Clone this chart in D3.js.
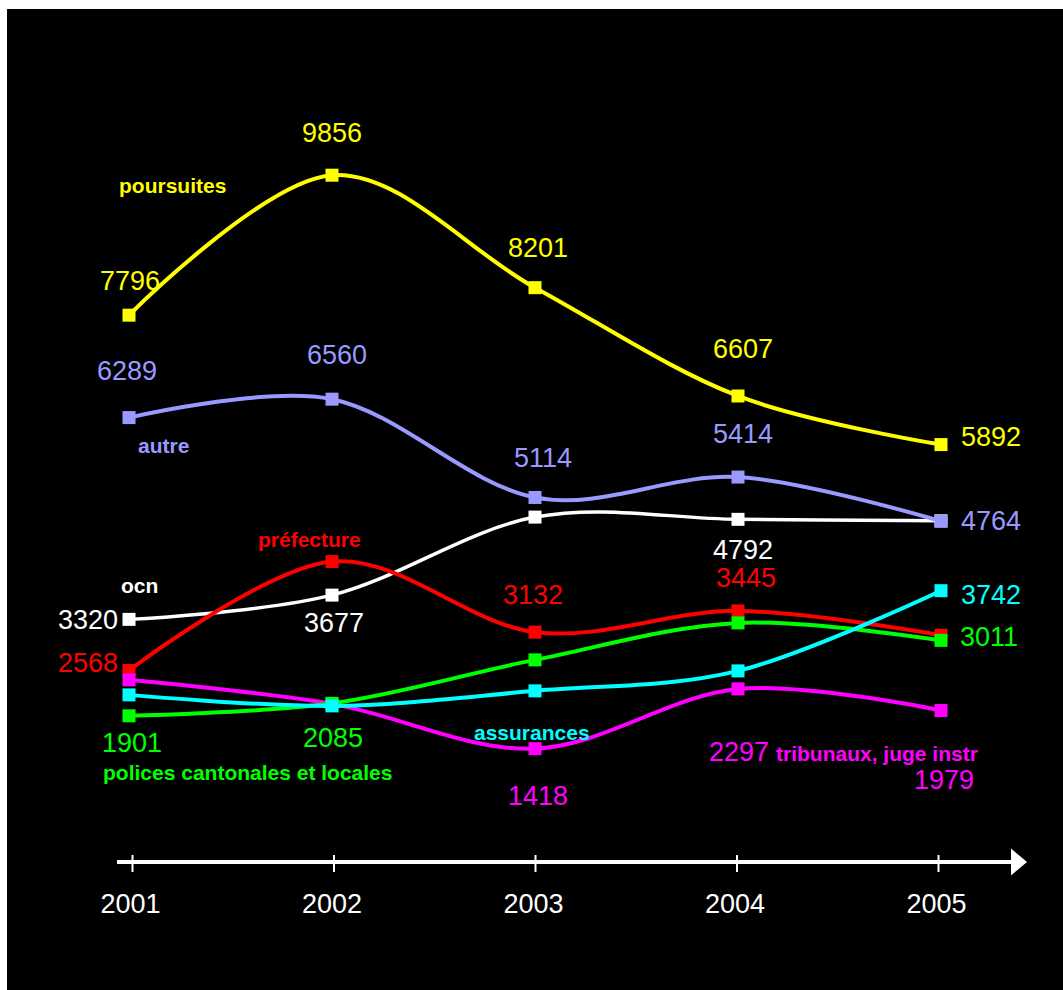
<!DOCTYPE html>
<html>
<head>
<meta charset="utf-8">
<script src="https://cdn.jsdelivr.net/npm/d3@7"></script>
<style>
  html, body { margin: 0; padding: 0; background: #ffffff; }
  svg { display: block; }
  text { font-family: "Liberation Sans", Arial, Helvetica, sans-serif; }
</style>
</head>
<body>
<div id="chart"></div>
<script>
// ---------------- DATA ----------------
const years = [2001, 2002, 2003, 2004, 2005];
const tickLabels = ["2001", "2002", "2003", "2004", "2005"];

const poursuites = [7796, 9856, 8201, 6607, 5892];
const autre      = [6289, 6560, 5114, 5414, 4764];
const ocn        = [3320, 3677, 4825, 4792, 4770];
const prefecture = [2568, 4170, 3132, 3445, 3087];
const polices    = [1901, 2085, 2724, 3268, 3011];
const assurances = [2209, 2047, 2268, 2562, 3742];
const tribunaux  = [2430, 2077, 1418, 2297, 1979];

const seriesNames = ["poursuites", "ocn", "autre", "préfecture",
                     "tribunaux, juge instr", "polices cantonales et locales", "assurances"];
const seriesValues = [poursuites, ocn, autre, prefecture, tribunaux, polices, assurances];

// which points carry a value label (index into years)
const labelledPoints = [
  [0, 1, 2, 3, 4],   // poursuites
  [0, 1, 3],         // ocn
  [0, 1, 2, 3, 4],   // autre
  [0, 2, 3],         // préfecture
  [2, 3, 4],         // tribunaux
  [0, 1, 4],         // polices
  [4]                // assurances
];

// ---------------- STYLE ----------------
const W = 1063, H = 990;
const colors = ["#FFFF00", "#FFFFFF", "#9999FF", "#FF0000", "#FF00FF", "#00FF00", "#00FFFF"];
const lineWidths = [4, 3.5, 4, 4, 4, 4, 4];

// label offsets relative to point: [dx, dy, anchor]
const labelOffsets = [
  [[1, -25, "middle"], [0, -33, "middle"], [3, -31, "middle"], [5, -38, "middle"], [20, 1, "start"]],
  [[-11, 10, "end"], [2, 37, "middle"], null, [5, 40, "middle"], null],
  [[-2, -38, "middle"], [5, -35, "middle"], [8, -30, "middle"], [5, -34, "middle"], [20, 9, "start"]],
  [[-11, 2, "end"], null, [-2, -28, "middle"], [8, -24, "middle"], null],
  [null, null, [3, 56, "middle"], [1, 72, "middle"], [3, 78, "middle"]],
  [[3, 36, "middle"], [1, 44, "middle"], null, null, [19, 6, "start"]],
  [null, null, null, null, [20, 13, "start"]]
];
// series name label positions (absolute, start-anchored)
const namePos = [[119, 193], [121, 593], [138, 453], [258, 547], [776, 761], [103, 780], [474, 740]];

// ---------------- CHART ----------------
const svg = d3.select("#chart").append("svg")
  .attr("width", W).attr("height", H);

svg.append("rect").attr("x", 7).attr("y", 9)
  .attr("width", W - 7).attr("height", H - 9).attr("fill", "#000000");

const x = d3.scaleLinear().domain([2001, 2005]).range([129, 941]);
const y = d3.scaleLinear().domain([0, 10000]).range([845, 165.4]);
const xAxisScale = d3.scaleLinear().domain([2001, 2005]).range([132, 938]);

// axis
const axisY = 862;
svg.append("line")
  .attr("x1", 117).attr("x2", 1013).attr("y1", axisY).attr("y2", axisY)
  .attr("stroke", "#fff").attr("stroke-width", 4);
svg.append("path")
  .attr("d", `M1011,${axisY - 13.5} L1027,${axisY} L1011,${axisY + 13.5} Z`)
  .attr("fill", "#fff");

const axis = d3.axisBottom(xAxisScale)
  .tickValues(years)
  .tickFormat((d, i) => tickLabels[i])
  .tickSize(10)
  .tickPadding(30);
const gAxis = svg.append("g").attr("transform", `translate(0,${axisY})`).call(axis);
gAxis.select(".domain").remove();
gAxis.selectAll(".tick line").attr("y1", -7).attr("y2", 10)
  .attr("stroke", "#fff").attr("stroke-width", 2);
gAxis.selectAll(".tick text")
  .attr("fill", "#fff")
  .attr("font-size", 27)
  .attr("dy", 0)
  .attr("y", 51)
  .attr("dx", -2)
  .style("font-family", "'Liberation Sans', Arial, sans-serif");

// lines
const line = d3.line()
  .x((d, i) => x(years[i]))
  .y(d => y(d))
  .curve(d3.curveCatmullRom.alpha(0));

const ms = 13;
seriesValues.forEach((vals, s) => {
  const g = svg.append("g");
  g.append("path")
    .datum(vals)
    .attr("d", line)
    .attr("fill", "none")
    .attr("stroke", colors[s])
    .attr("stroke-width", lineWidths[s])
    .attr("stroke-linejoin", "round");
  g.selectAll("rect")
    .data(vals)
    .join("rect")
    .attr("x", (d, i) => x(years[i]) - ms / 2)
    .attr("y", d => y(d) - ms / 2)
    .attr("width", ms).attr("height", ms)
    .attr("fill", colors[s]);
});

// value labels
seriesValues.forEach((vals, s) => {
  labelledPoints[s].forEach(i => {
    const o = labelOffsets[s][i];
    svg.append("text")
      .attr("x", x(years[i]) + o[0])
      .attr("y", y(vals[i]) + o[1])
      .attr("text-anchor", o[2])
      .attr("font-size", 27)
      .attr("fill", colors[s])
      .text(vals[i]);
  });
});

// series name labels
seriesNames.forEach((name, s) => {
  svg.append("text")
    .attr("x", namePos[s][0])
    .attr("y", namePos[s][1])
    .attr("font-size", 21)
    .attr("font-weight", "bold")
    .attr("fill", colors[s])
    .text(name);
});
</script>
</body>
</html>
